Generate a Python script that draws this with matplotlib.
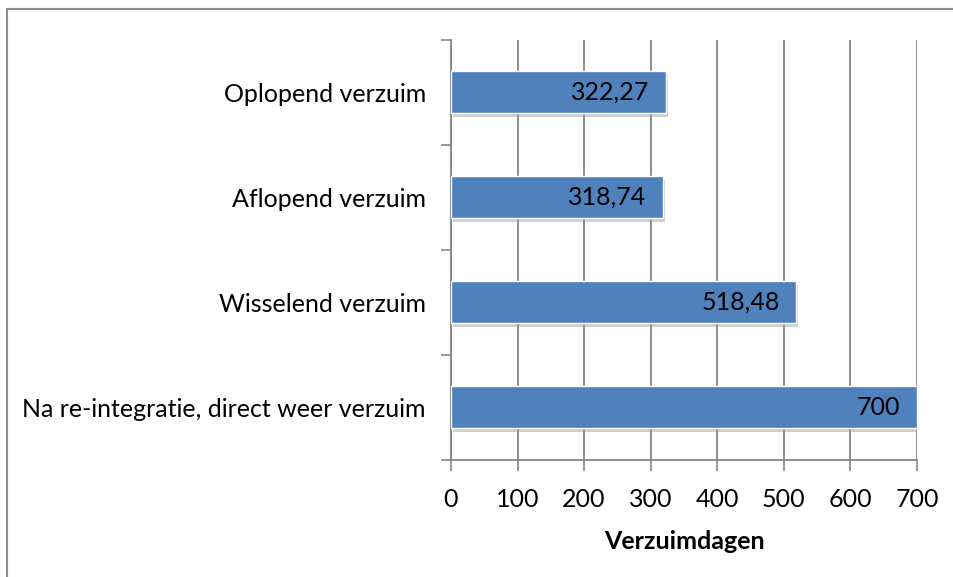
import matplotlib.pyplot as plt
import matplotlib.patheffects as pe
from matplotlib.patches import Rectangle

# gegevens
categorieen = ['Na re-integratie, direct weer verzuim', 'Wisselend verzuim',
               'Aflopend verzuim', 'Oplopend verzuim']
waarden = [700, 518.48, 318.74, 322.27]
labels = ['700', '518,48', '318,74', '322,27']
x_ticks = [0, 100, 200, 300, 400, 500, 600, 700]

plt.rcParams['font.family'] = ['Lato', 'DejaVu Sans']
fs = 18

fig = plt.figure(figsize=(9.54, 5.77), dpi=100)
ax = fig.add_axes([0.4727, 0.2028, 0.4885, 0.7279])

# rand om de figuur
fig.patches.append(Rectangle((7 / 954, -0.1), 1.2, 1 - 9 / 577 + 0.1, transform=fig.transFigure,
                             fill=False, edgecolor='#8c8c8c', linewidth=1.5))

y = range(len(categorieen))
bars = ax.barh(y, waarden, height=0.4, color='#4F81BD', edgecolor='white', linewidth=1, zorder=3)
for b in bars:
    b.set_path_effects([pe.SimplePatchShadow(offset=(1.5, -2.5), shadow_rgbFace='#a0a0a0', alpha=0.5), pe.Normal()])

for i, (w, t) in enumerate(zip(waarden, labels)):
    ax.text(w - 25, i, t, ha='right', va='center', fontsize=fs, color='black', zorder=4)

ax.set_xlim(0, 700)
ax.set_ylim(-0.5, len(categorieen) - 0.5)
ax.set_xticks(x_ticks)
ax.set_xticklabels([str(v) for v in x_ticks], fontsize=fs)
ax.set_yticks(y)
ax.set_yticklabels(categorieen, fontsize=fs)
ax.tick_params(axis='y', length=0, pad=18)
ax.set_yticks([i - 0.5 for i in range(len(categorieen) + 1)], minor=True)
ax.tick_params(axis='y', which='minor', length=7, direction='out', color='#868686', width=1.2)
ax.tick_params(axis='x', length=8, direction='out', color='#868686', width=1.2, pad=12)

ax.grid(axis='x', color='#868686', linewidth=1.3, zorder=0)
for s in ['top', 'right']:
    ax.spines[s].set_visible(False)
ax.spines['left'].set_color('#868686')
ax.spines['bottom'].set_color('#868686')
ax.spines['left'].set_linewidth(1.3)
ax.spines['bottom'].set_linewidth(1.3)

ax.set_xlabel('Verzuimdagen', fontsize=fs, fontweight='bold', labelpad=14)

fig.savefig('out.png', dpi=100)
